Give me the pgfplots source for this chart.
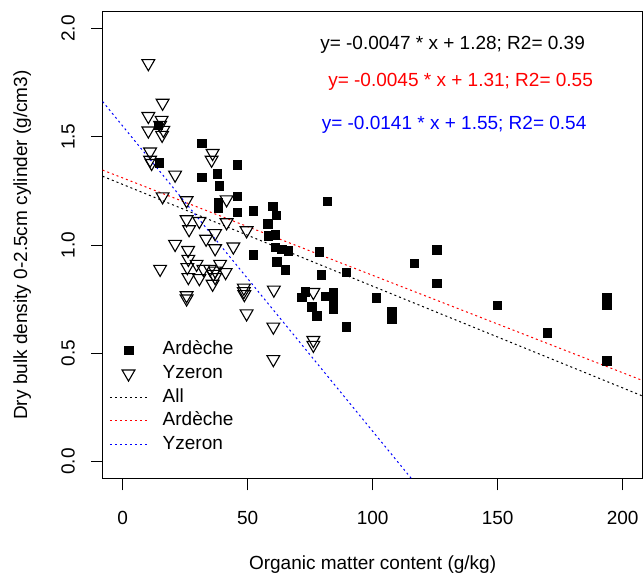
\documentclass[border=0pt]{standalone}
\usepackage{fontspec}
\setmainfont{Liberation Sans}
\usepackage{pgfplots}
\usepackage{pgfplotstable}
\pgfplotsset{compat=1.18}
\newcommand{\rfont}{\fontsize{19bp}{22bp}\selectfont}
\definecolor{rblue}{RGB}{0,0,255}
\definecolor{rred}{RGB}{255,0,0}

\pgfplotstableread{
x y
14.3 1.554
14.7 1.381
31.6 1.470
31.6 1.314
37.9 1.329
38.7 1.275
38.2 1.196
38.2 1.173
45.8 1.370
45.8 1.225
45.8 1.152
52.3 1.158
52.3 0.955
60.0 1.179
61.5 1.137
58.0 1.099
58.3 1.042
61.0 1.047
61.0 0.989
63.6 0.981
66.3 0.973
61.6 0.923
65.0 0.885
78.6 0.968
81.9 1.202
79.4 0.862
89.4 0.875
71.6 0.758
73.0 0.784
75.6 0.714
77.6 0.674
81.0 0.763
84.3 0.782
84.3 0.744
84.3 0.706
89.4 0.622
101.4 0.756
107.6 0.691
107.6 0.660
116.6 0.915
125.6 0.978
125.6 0.824
149.8 0.721
169.8 0.596
193.6 0.759
193.6 0.721
193.6 0.466
}\ardeche

\pgfplotstableread{
x y
10.3 1.839
16.0 1.656
10.3 1.595
15.6 1.577
10.3 1.528
15.0 1.554
16.3 1.531
15.8 1.508
11.0 1.431
11.0 1.393
11.6 1.378
36.0 1.424
35.6 1.393
21.0 1.324
16.0 1.224
25.6 1.206
41.6 1.210
25.6 1.118
30.7 1.110
26.6 1.072
37.0 1.054
41.6 1.104
49.6 1.067
21.0 1.004
26.2 0.976
33.4 1.028
37.0 0.984
44.3 0.992
26.3 0.935
29.6 0.912
25.9 0.897
39.0 0.912
32.3 0.889
15.0 0.889
35.0 0.889
37.0 0.881
41.2 0.874
26.3 0.851
30.7 0.846
36.3 0.866
37.0 0.851
36.0 0.820
25.6 0.767
25.6 0.752
48.5 0.802
48.5 0.786
48.7 0.772
60.5 0.793
49.6 0.683
60.3 0.622
60.3 0.472
76.3 0.782
76.3 0.560
76.3 0.538
}\yzeron

\begin{document}
\begin{tikzpicture}
\useasboundingbox (-102.6bp,-97.2bp) rectangle (541.4bp,478.8bp);
\begin{axis}[
  at={(0,0)}, anchor=south west,
  scale only axis, width=540bp, height=467.6bp,
  xmin=-8, xmax=208, ymin=-0.08, ymax=2.08,
  xtick={0,50,100,150,200},
  ytick={0,0.5,1,1.5,2},
  yticklabel style={/pgf/number format/fixed,/pgf/number format/precision=1,/pgf/number format/fixed zerofill},
  /pgf/number format/assume math mode=true,
  ticklabel style={font=\rfont},
  tick align=outside, xtick pos=bottom, ytick pos=left,
  major tick length=11.5bp,
  tick style={black, line width=0.9bp},
  axis line style={black, line width=0.9bp},
  xticklabel style={anchor=north, inner xsep=0bp, inner ysep=21bp},
  yticklabel style={rotate=90, anchor=south, inner xsep=0bp, inner ysep=16bp},
  xlabel={Organic matter content (g/kg)},
  ylabel={Dry bulk density 0-2.5cm cylinder (g/cm3)},
  label style={font=\rfont},
  xlabel style={at={(axis description cs:0.5,-0.183)}, anchor=center, inner sep=0bp},
  ylabel style={at={(axis description cs:-0.149,0.5)}, anchor=center, rotate=0, inner sep=0bp},
  legend cell align=left,
  legend style={draw=none, fill=none, at={(axis description cs:0.0124,0.295)}, anchor=north west,
    font=\rfont, inner sep=0bp, outer sep=0bp, row sep=5.1bp,
    nodes={inner sep=0bp, text height=14bp, text depth=4.5bp},
    /tikz/every odd column/.append style={column sep=15bp}},
]
\addplot[forget plot, only marks, mark=square*, mark size=4.3bp, black] table[x=x,y=y] {\ardeche};
\addplot[forget plot, only marks, mark=triangle, mark size=7.4bp, black, mark options={rotate=180, line width=1.1bp, fill=none}] table[x=x,y=y] {\yzeron};
\addplot[forget plot, black, line width=1bp, dash pattern=on 2bp off 3bp] coordinates {(-8,1.3176) (208,0.3024)};
\addplot[forget plot, rred, line width=1bp, dash pattern=on 2bp off 3bp] coordinates {(-8,1.346) (208,0.374)};
\addplot[forget plot, rblue, line width=1bp, dash pattern=on 2bp off 3bp] coordinates {(-8,1.6628) (208,-1.3828)};

\addlegendimage{legend image code/.code={\draw[black, fill=black] (18.7bp,0bp) ++(-4.3bp,-4.3bp) rectangle ++(8.6bp,8.6bp);}}
\addlegendentry{Ardèche}
\addlegendimage{legend image code/.code={\draw[black, line width=1.1bp] (18.7bp,0bp) ++(0bp,-7.4bp) -- ++(6.41bp,11.1bp) -- ++(-12.82bp,0bp) -- cycle;}}
\addlegendentry{Yzeron}
\addlegendimage{legend image code/.code={\draw[black, line width=1bp, dash pattern=on 2bp off 3bp] (0bp,0bp) -- (37.4bp,0bp);}}
\addlegendentry{All}
\addlegendimage{legend image code/.code={\draw[rred, line width=1bp, dash pattern=on 2bp off 3bp] (0bp,0bp) -- (37.4bp,0bp);}}
\addlegendentry{Ardèche}
\addlegendimage{legend image code/.code={\draw[rblue, line width=1bp, dash pattern=on 2bp off 3bp] (0bp,0bp) -- (37.4bp,0bp);}}
\addlegendentry{Yzeron}

\node[anchor=west, inner sep=0bp, font=\rfont, text=black] at (axis cs:79,1.924) {y= -0.0047 * x + 1.28; R2= 0.39};
\node[anchor=west, inner sep=0bp, font=\rfont, text=rred] at (axis cs:82.2,1.753) {y= -0.0045 * x + 1.31; R2= 0.55};
\node[anchor=west, inner sep=0bp, font=\rfont, text=rblue] at (axis cs:79.6,1.554) {y= -0.0141 * x + 1.55; R2= 0.54};
\end{axis}
\end{tikzpicture}
\end{document}
